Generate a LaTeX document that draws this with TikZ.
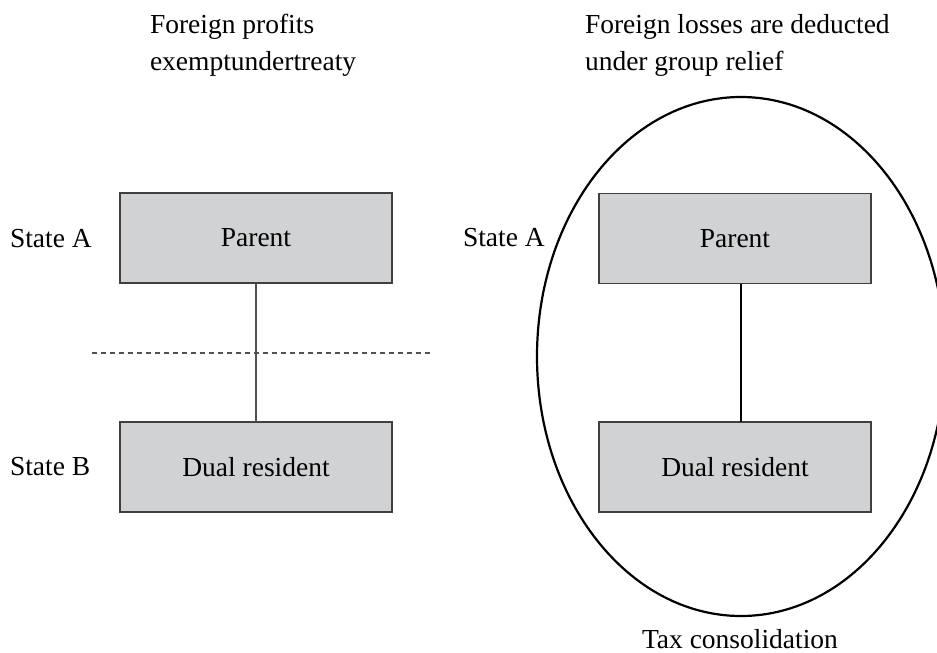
\documentclass[tikz,border=0pt]{standalone}
\usepackage{fontspec}
\setmainfont{Liberation Serif}
\usetikzlibrary{calc,shapes.geometric}
\definecolor{boxfill}{HTML}{D1D2D4}
\definecolor{boxline}{HTML}{404040}
\definecolor{linkgray}{HTML}{505050}
\begin{document}
\begin{tikzpicture}[x=1pt,y=-1pt,
  every node/.style={inner sep=0pt,outer sep=0pt,font=\fontsize{27.5}{37}\selectfont},
  entity/.style={draw=boxline,line width=1.1pt,fill=boxfill,minimum width=272pt,minimum height=90pt},
  label/.style={anchor=base west},
  title/.style={anchor=base west,align=left},
  link/.style={draw=linkgray,line width=1.4pt},
  strong link/.style={draw=black,line width=2.2pt},
  border/.style={dash pattern=on 5pt off 4pt,draw=linkgray,line width=1.1pt}]
\useasboundingbox (0,0) rectangle (937,653);
\clip (0,0) rectangle (937,653);

% left panel: exemption
\node[title] (t1) at (150,33) {Foreign profits};
\node[title] (t1b) at (150,70) {exemptundertreaty};
\node[entity] (lp) at (256,238) {Parent};
\node[entity] (ld) at (256,467) {Dual resident};
\node[label] (la) at (10,247) {State A};
\node[label] (lb) at (10,475) {State B};
\coordinate (bl) at (92,353);
\coordinate (br) at (430,353);
\draw[border] (bl) -- (br);
\draw[link] (lp.south) -- (ld.north);

% right panel: group relief
\node[title] (t2) at (585,33) {Foreign losses are deducted};
\node[title] (t2b) at (585,70) {under group relief};
\node[entity] (rp) at (735,238.5) {Parent};
\node[entity] (rd) at (735,467) {Dual resident};
\node[label] (ra) at (463,246) {State A};
\node (grp) at (741,356.5) [draw=black,line width=2.2pt,ellipse,minimum width=408pt,minimum height=519pt] {};
\draw[strong link] ($(rp.south)+(6,0)$) -- ($(rd.north)+(6,0)$);
\node[anchor=base] (tc) at (740,648) {Tax consolidation};
\end{tikzpicture}
\end{document}
